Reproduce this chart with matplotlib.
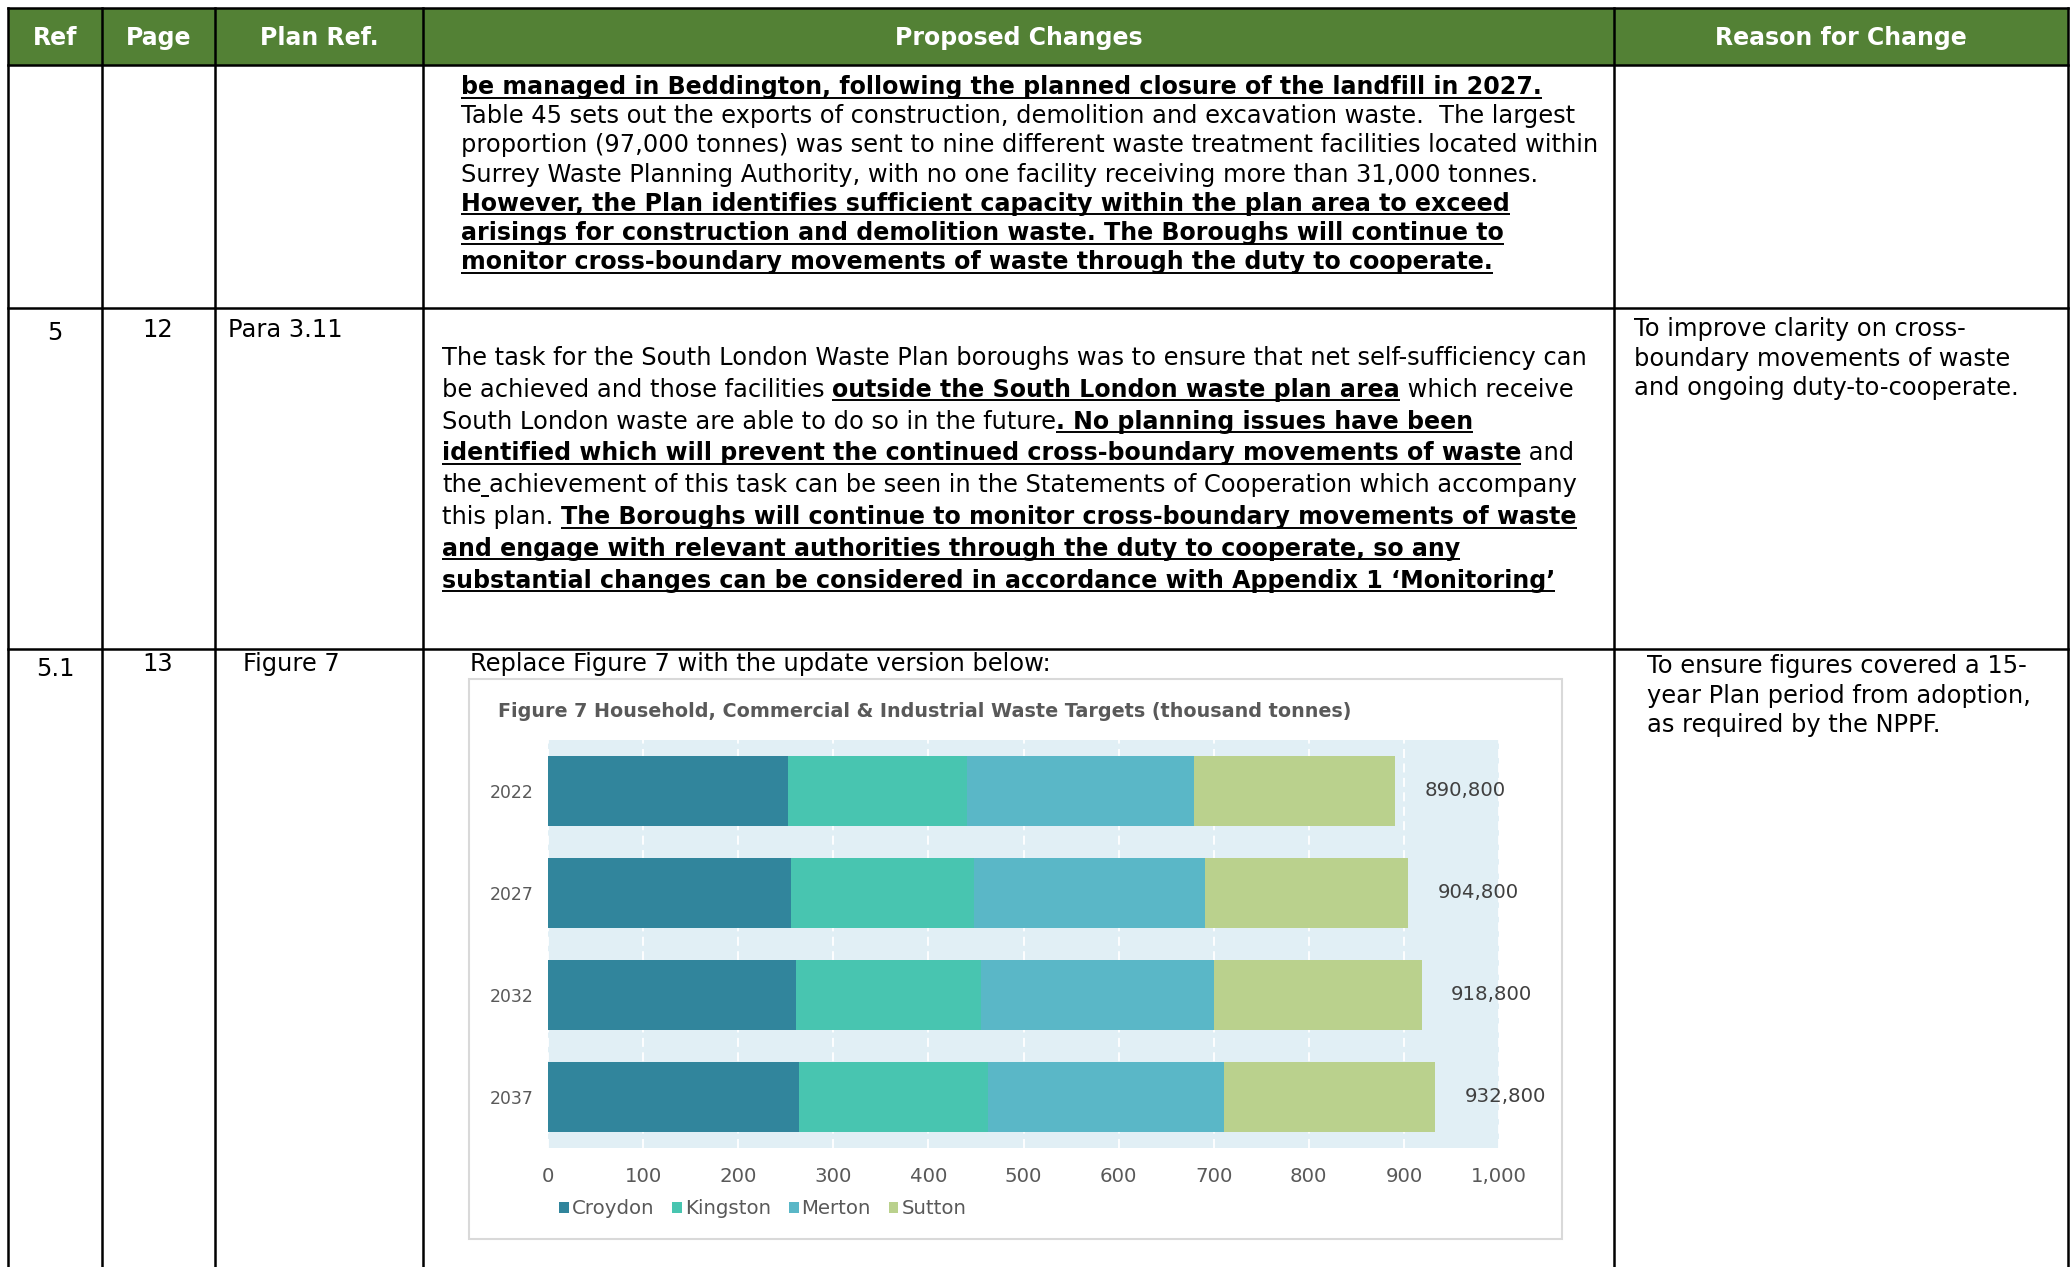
import matplotlib
matplotlib.use("Agg")
import matplotlib.pyplot as plt
from matplotlib.patches import Rectangle, Patch
import numpy as np

plt.rcParams['font.family'] = 'DejaVu Sans'

W, H = 2071, 1267

# chart data (thousand tonnes)
years = ["2022", "2027", "2032", "2037"]
boroughs = ["Croydon", "Kingston", "Merton", "Sutton"]
croydon = [252.4, 256.0, 260.5, 264.3]
kingston = [188.4, 192.2, 194.5, 198.2]
merton = [238.7, 242.5, 245.4, 248.5]
sutton = [211.3, 214.1, 218.4, 221.8]
x_ticks = [0, 100, 200, 300, 400, 500, 600, 700, 800, 900, 1000]
colors = ["#31859C", "#48C5B0", "#5AB7C7", "#BAD18D"]

chart_title = "Figure 7 Household, Commercial & Industrial Waste Targets (thousand tonnes)"

# table text
headers = ["Ref", "Page", "Plan Ref.", "Proposed Changes", "Reason for Change"]

row1_lines = [
    [("be managed in Beddington, following the planned closure of the landfill in 2027.", True, True)],
    [("Table 45 sets out the exports of construction, demolition and excavation waste.  The largest", False, False)],
    [("proportion (97,000 tonnes) was sent to nine different waste treatment facilities located within", False, False)],
    [("Surrey Waste Planning Authority, with no one facility receiving more than 31,000 tonnes.", False, False)],
    [("However, the Plan identifies sufficient capacity within the plan area to exceed", True, True)],
    [("arisings for construction and demolition waste. The Boroughs will continue to", True, True)],
    [("monitor cross-boundary movements of waste through the duty to cooperate.", True, True)],
]

row2_lines = [
    [("The task for the South London Waste Plan boroughs was to ensure that net self-sufficiency can", False, False)],
    [("be achieved and those facilities ", False, False),
     ("outside the South London waste plan area", True, True),
     (" which receive", False, False)],
    [("South London waste are able to do so in the future", False, False),
     (". No planning issues have been", True, True)],
    [("identified which will prevent the continued cross-boundary movements of waste", True, True),
     (" and", False, False)],
    [("the", False, False), (" ", False, True),
     ("achievement of this task can be seen in the Statements of Cooperation which accompany", False, False)],
    [("this plan. ", False, False),
     ("The Boroughs will continue to monitor cross-boundary movements of waste", True, True)],
    [("and engage with relevant authorities through the duty to cooperate, so any", True, True)],
    [("substantial changes can be considered in accordance with Appendix 1 \u2018Monitoring\u2019", True, True)],
]

row2_reason = ["To improve clarity on cross-", "boundary movements of waste", "and ongoing duty-to-cooperate."]
row3_reason = ["To ensure figures covered a 15-", "year Plan period from adoption,", "as required by the NPPF."]

fig = plt.figure(figsize=(W / 100, H / 100), dpi=100)
ax = fig.add_axes([0, 0, 1, 1])
ax.set_xlim(0, W)
ax.set_ylim(H, 0)
ax.axis("off")
renderer = fig.canvas.get_renderer()

FS = 17.4     # regular body text
FSB = 17.1    # bold body text
HFS = 17

col_x = [8, 102, 215, 423, 1614, 2068]
row_y = [8, 65, 308, 649]

# header
ax.add_patch(Rectangle((col_x[0], row_y[0]), col_x[-1] - col_x[0], row_y[1] - row_y[0],
                       facecolor="#538135", edgecolor="none"))
for i, h in enumerate(headers):
    ax.text((col_x[i] + col_x[i + 1]) / 2, 38, h, color="white", fontsize=HFS,
            fontweight="bold", ha="center", va="center")

# grid lines
for y in row_y:
    ax.plot([col_x[0], col_x[-1]], [y, y], color="black", lw=1.8, solid_capstyle="projecting")
for x in col_x:
    ax.plot([x, x], [row_y[0], H], color="black", lw=1.8, solid_capstyle="projecting")


def run_width(txt, bold):
    wt = "bold" if bold else "normal"
    fs = FSB if bold else FS
    a = ax.text(0, 0, txt + "x", fontsize=fs, fontweight=wt)
    b = ax.text(0, 0, "x", fontsize=fs, fontweight=wt)
    w = a.get_window_extent(renderer).width - b.get_window_extent(renderer).width
    a.remove()
    b.remove()
    return w


def draw_runs(x, y, runs):
    for txt, bold, ul in runs:
        w = run_width(txt, bold)
        ax.text(x, y, txt, fontsize=FSB if bold else FS, fontweight="bold" if bold else "normal",
                ha="left", va="baseline", color="black")
        if ul:
            ax.plot([x, x + w], [y + 3.5, y + 3.5], color="black", lw=1.4, solid_capstyle="butt")
        x += w


for i, runs in enumerate(row1_lines):
    draw_runs(461, 94 + 29.2 * i, runs)
for i, runs in enumerate(row2_lines):
    draw_runs(442, 365 + 31.8 * i, runs)

# row 2 cells
ax.text(55, 340, "5", fontsize=FS, ha="center", va="baseline")
ax.text(158, 337, "12", fontsize=FS, ha="center", va="baseline")
ax.text(228, 337, "Para 3.11", fontsize=FS, ha="left", va="baseline")
for i, s in enumerate(row2_reason):
    ax.text(1634, 336 + 29.7 * i, s, fontsize=FS, ha="left", va="baseline")

# row 3 cells
ax.text(55, 676, "5.1", fontsize=FS, ha="center", va="baseline")
ax.text(158, 671, "13", fontsize=FS, ha="center", va="baseline")
ax.text(243, 671, "Figure 7", fontsize=FS, ha="left", va="baseline")
ax.text(470, 671, "Replace Figure 7 with the update version below:", fontsize=FS, ha="left", va="baseline")
for i, s in enumerate(row3_reason):
    ax.text(1647, 673 + 29.7 * i, s, fontsize=FS, ha="left", va="baseline")

# chart frame and title
ax.add_patch(Rectangle((469, 679), 1562 - 469, 1239 - 679, facecolor="white",
                       edgecolor="#D9D9D9", lw=1.5))
ax.text(498, 717, chart_title, fontsize=13.8, fontweight="bold", color="#595959",
        ha="left", va="baseline")

# bar chart
ax2 = fig.add_axes([548 / W, 1 - 1148 / H, (1499 - 548) / W, (1148 - 740) / H])
ax2.set_facecolor("#E1EFF5")
y = np.arange(len(years))
left = np.zeros(len(years))
for vals, name, c in zip([croydon, kingston, merton, sutton], boroughs, colors):
    ax2.barh(y, vals, left=left, height=0.69, color=c, label=name, zorder=3)
    left += np.array(vals)
for i, tot in enumerate(left):
    ax2.annotate(f"{round(tot * 1000):,}", xy=(tot, i), xytext=(21, 0), textcoords="offset points",
                 ha="left", va="center", fontsize=14.2, color="#404040")
ax2.set_xlim(0, 1000)
ax2.set_ylim(len(years) - 0.5, -0.5)
ax2.set_xticks(x_ticks)
ax2.set_xticklabels([f"{t:,}" for t in x_ticks])
ax2.set_yticks(y)
ax2.set_yticklabels(years)
ax2.tick_params(axis="x", length=0, pad=14, labelsize=14.2, labelcolor="#595959")
ax2.tick_params(axis="y", length=0, pad=10.5, labelsize=12.4, labelcolor="#595959")
for sp in ax2.spines.values():
    sp.set_visible(False)
ax2.xaxis.grid(True, color="white", linestyle=(0, (5, 3)), lw=1.3, zorder=1)
ax2.set_axisbelow(True)

handles = [Patch(facecolor=c, edgecolor="none") for c in colors]
fig.legend(handles, boroughs, loc="center left", bbox_to_anchor=(559 / W, 1 - 1209 / H),
           ncol=4, frameon=False, fontsize=14.2, handlelength=0.5, handleheight=0.5,
           handletextpad=0.15, columnspacing=0.9, labelcolor="#595959",
           borderpad=0, borderaxespad=0)

fig.savefig("out.png", dpi=100)
